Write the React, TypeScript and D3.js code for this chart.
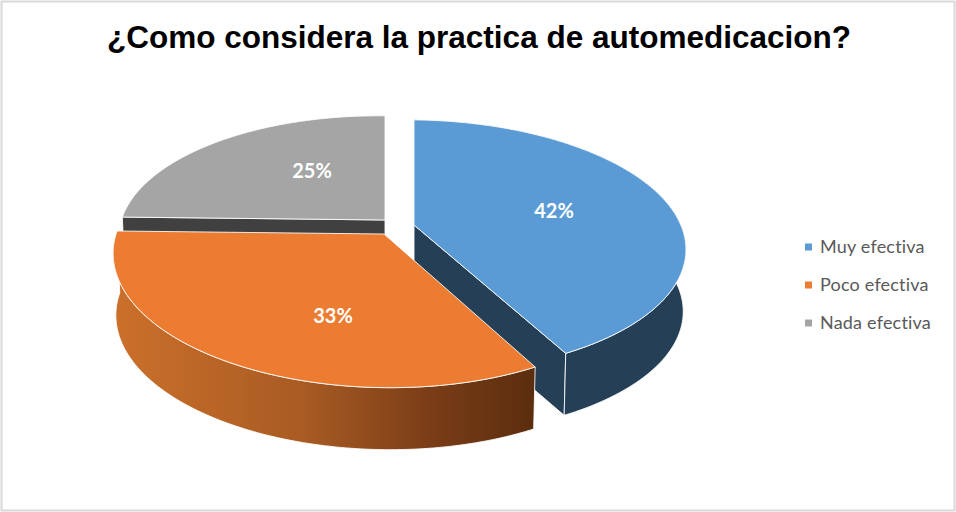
import React from "react";
import * as d3 from "d3";

const categories = ["Muy efectiva", "Poco efectiva", "Nada efectiva"];
const values = [42, 33, 25];
const topColors = ["#5B9BD5", "#EB7C31", "#A5A5A5"];
const wallColors = ["#243F56", "url(#orangeWall)", "#404040"];
const title = "¿Como considera la practica de automedicacion?";

const W = 956, H = 512;
const K = 0.17, SHEAR = 3, DEPTH = 62, BOTTOM_SCALE = 0.99;
// per-slice placement: apex on screen, radii, shift in depth, label position
const placement = [
  { x: 414, y: 225, r: 268, rt: 123, v0: 0, lx: 554, ly: 211 },
  { x: 384, y: 234, r: 266, rt: 127, v0: 0.02, lx: 333, ly: 316 },
  { x: 385, y: 220, r: 268, rt: 124, v0: -0.12, lx: 312, ly: 171 },
];

const pie = d3.pie<number>().sort(null)(values);

function project(a: number, p: typeof placement[0], bottom: boolean): [number, number] {
  const u = Math.sin(a), v = -Math.cos(a);
  const den = 1 - K * (v + p.v0);
  const s = bottom ? BOTTOM_SCALE : 1;
  return [
    p.x + (s * p.r * u) / den,
    p.y + (bottom ? DEPTH : 0) + (p.rt * v + SHEAR * u) / den,
  ];
}
const line = d3.line();
const arcAngles = (a0: number, a1: number) =>
  d3.range(0, 121).map((i) => a0 + ((a1 - a0) * i) / 120);

export default function App() {
  const tops = pie.map((d, i) => {
    const p = placement[i];
    return line([[p.x, p.y], ...arcAngles(d.startAngle, d.endAngle).map((a) => project(a, p, false))])! + "Z";
  });
  const walls = pie.map((d, i) => {
    const p = placement[i];
    const ang = arcAngles(d.startAngle, d.endAngle);
    return line([
      ...ang.map((a) => project(a, p, false)),
      ...ang.slice().reverse().map((a) => project(a, p, true)),
    ])! + "Z";
  });
  const cutFace = (i: number, a: number) => {
    const p = placement[i];
    return line([
      [p.x, p.y],
      project(a, p, false),
      project(a, p, true),
      [p.x, p.y + DEPTH],
    ])! + "Z";
  };
  const legendY = d3.scalePoint<string>().domain(categories).range([247, 323]);
  const edge = { stroke: "#fff", strokeOpacity: 0.85, strokeWidth: 1, strokeLinejoin: "round" as const };
  const order = [2, 0, 1];

  return (
    <svg width={W} height={H} style={{ position: "absolute", left: 0, top: 0, background: "#fff" }}>
      <defs>
        <linearGradient id="orangeWall" gradientUnits="userSpaceOnUse" x1={115} x2={535} y1={0} y2={0}>
          <stop offset="0" stopColor="#CB702B" />
          <stop offset="0.45" stopColor="#A85B23" />
          <stop offset="0.75" stopColor="#7A3D17" />
          <stop offset="1" stopColor="#5B2D0E" />
        </linearGradient>
      </defs>
      <rect x={1.5} y={1.5} width={W - 3} height={H - 3} fill="#fff" stroke="#D9D9D9" strokeWidth={2} />
      <text x={479} y={48} textAnchor="middle" fontFamily="'Liberation Sans', Arial, sans-serif"
        fontWeight="bold" fontSize={31.5} fill="#000">{title}</text>
      {order.map((i) => (
        <g key={i}>
          {i === 0 && <path d={cutFace(0, pie[0].endAngle)} fill={wallColors[0]} {...edge} />}
          {i === 2 && <path d={cutFace(2, pie[2].startAngle)} fill={wallColors[2]} {...edge} />}
          {i !== 2 && <path d={walls[i]} fill={wallColors[i]} {...edge} />}
          <path d={tops[i]} fill={topColors[i]} {...edge} />
        </g>
      ))}
      {values.map((v, i) => (
        <text key={i} x={placement[i].lx} y={placement[i].ly + 7} textAnchor="middle"
          fontFamily="Lato, sans-serif" fontWeight="bold" fontSize={20} fill="#fff">{v}%</text>
      ))}
      {categories.map((c, i) => (
        <g key={c}>
          <rect x={805} y={legendY(c)! - 3.5} width={7} height={7} fill={topColors[i]} />
          <text x={820} y={legendY(c)! + 6} fontFamily="Lato, sans-serif" fontSize={18} letterSpacing={0.2} fill="#595959">{c}</text>
        </g>
      ))}
    </svg>
  );
}
